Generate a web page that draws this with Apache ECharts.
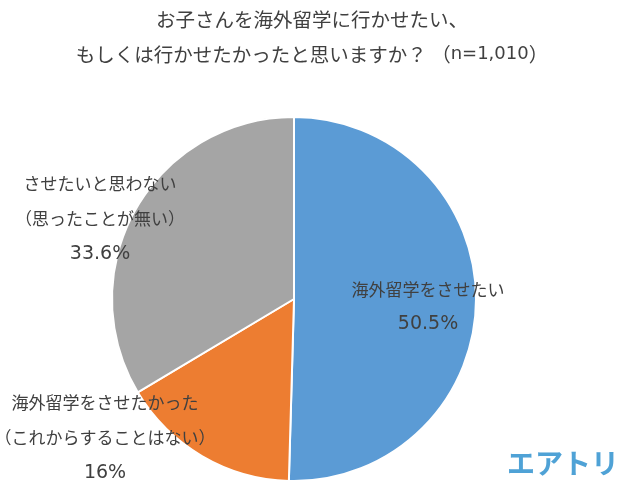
<!DOCTYPE html>
<html>
<head>
<meta charset="utf-8">
<script src="https://cdn.jsdelivr.net/npm/echarts@6/dist/echarts.min.js"></script>
<style>
html,body{margin:0;padding:0;background:#fff;}
#main{width:624px;height:481px;}
</style>
</head>
<body>
<div id="main"></div>
<script>
const titleLine1 = 'お子さんを海外留学に行かせたい、';
const titleLine2 = 'もしくは行かせたかったと思いますか？';
const sampleSize = 'n=1,010';
const categories = ['海外留学をさせたい', '海外留学をさせたかった\n（これからすることはない）', 'させたいと思わない\n（思ったことが無い）'];
const values = [50.5, 16, 33.6];
const valueLabels = ['50.5%', '16%', '33.6%'];
const colors = ['#5B9BD5', '#ED7D31', '#A5A5A5'];

const FONT = '"Noto Sans CJK JP", "Noto Sans", sans-serif';
const NUMFONT = '"DejaVu Sans", sans-serif';
const labelPos = [[428, 307], [105, 438], [100, 219]];

const chart = echarts.init(document.getElementById('main'));
chart.setOption({
  backgroundColor: '#fff',
  animation: false,
  title: {
    text: '{t|' + titleLine1 + '}\n{t|' + titleLine2 + ' （}{n|' + sampleSize + '}{t|）}',
    left: 'center',
    top: 2,
    padding: 0,
    textStyle: {
      fontWeight: 'normal',
      rich: {
        t: { fontFamily: FONT, fontSize: 19.5, fontWeight: 'normal', color: '#404040', lineHeight: 35 },
        n: { fontFamily: NUMFONT, fontSize: 18, fontWeight: 'normal', color: '#404040', lineHeight: 35 }
      }
    }
  },
  graphic: [{
    type: 'text',
    right: 5,
    bottom: 4,
    style: {
      text: 'エアトリ',
      fontFamily: FONT,
      fontSize: 28,
      fontWeight: 'bold',
      fill: '#4FA2D6'
    }
  }],
  series: [{
    type: 'pie',
    center: [294, 299],
    radius: 182,
    startAngle: 90,
    clockwise: true,
    itemStyle: { borderColor: '#fff', borderWidth: 2 },
    label: {
      show: true,
      position: 'inside',
      align: 'center',
      formatter: p => p.name.split('\n').map(s => '{t|' + s + '}').join('\n') + '\n{v|' + valueLabels[p.dataIndex] + '}',
      rich: {
        t: { fontFamily: FONT, fontSize: 17, fontWeight: 'normal', color: '#404040', lineHeight: 35, align: 'center' },
        v: { fontFamily: NUMFONT, fontSize: 19, fontWeight: 'normal', color: '#404040', lineHeight: 35, align: 'center' }
      }
    },
    labelLine: { show: false },
    labelLayout: function (params) {
      const pos = labelPos[params.dataIndex];
      return { x: pos[0], y: pos[1], align: 'center', verticalAlign: 'middle' };
    },
    emphasis: { disabled: true },
    data: categories.map((c, i) => ({ name: c, value: values[i], itemStyle: { color: colors[i] } }))
  }]
});
</script>
</body>
</html>
